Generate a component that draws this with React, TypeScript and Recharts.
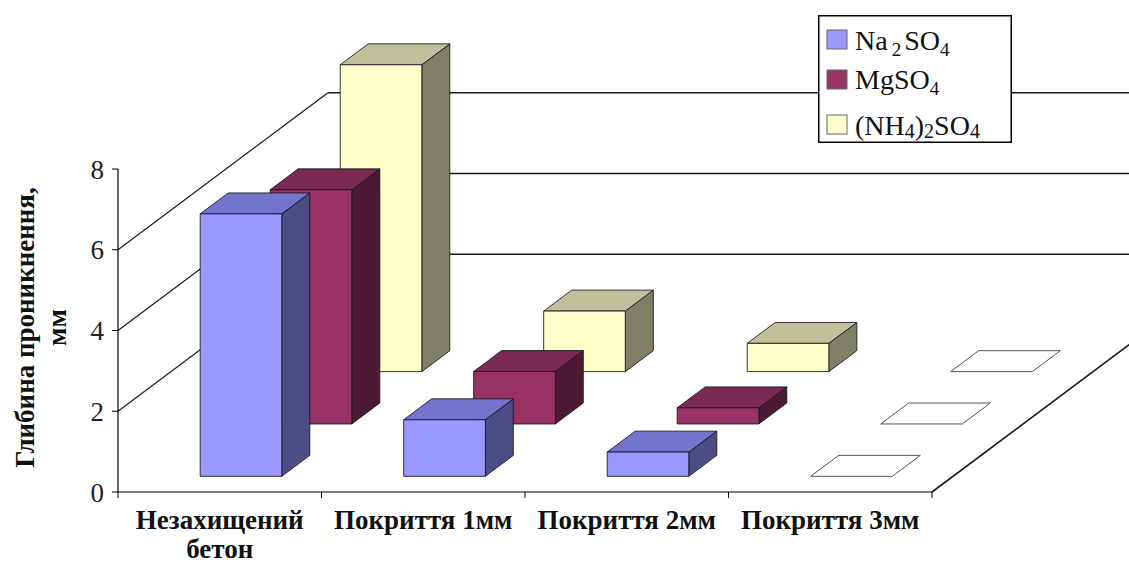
import React from 'react';
import { BarChart, Bar, XAxis, YAxis, CartesianGrid, Legend } from 'recharts';

// Categories along the front axis; a line break splits a label over two lines
const categories = ['Незахищений\nбетон', 'Покриття 1мм', 'Покриття 2мм', 'Покриття 3мм'];

// Penetration depth (mm) per aggressive solution
const na2so4Depth = [6.5, 1.4, 0.6, 0];
const mgso4Depth = [5.8, 1.3, 0.4, 0];
const nh42so4Depth = [7.6, 1.5, 0.7, 0];

const yTicks = [0, 2, 4, 6, 8];

const data = categories.map((category, i) => ({
  category,
  na2so4: na2so4Depth[i],
  mgso4: mgso4Depth[i],
  nh42so4: nh42so4Depth[i],
}));

const SERIF = "'Liberation Serif', 'Times New Roman', serif";

// Chart frame
const CHART_W = 1129;
const CHART_H = 565;
const MARGIN = { top: 169, right: 197, left: 18, bottom: 33 };
const Y_AXIS_W = 100;
const X_AXIS_H = 40;
const X_TICK_SIZE = 6;
const X_TICK_MARGIN = 2;
const PLOT_W = CHART_W - MARGIN.left - MARGIN.right - Y_AXIS_W;

// Oblique projection: offset of the back of the floor relative to its front edge
const DEPTH_X = 210;
const DEPTH_Y = -157;
const ROWS = 3;
const BAR_FILL = 0.4; // share of a category / depth row taken by a box

type Palette = { front: string; top: string; side: string };

const PALETTES: Record<string, Palette> = {
  na2so4: { front: '#9999FF', top: '#7474CC', side: '#4D4D85' },
  mgso4: { front: '#993366', top: '#7A2952', side: '#4D1A33' },
  nh42so4: { front: '#FFFFCC', top: '#C0C09A', side: '#808066' },
};

// Draws one 3D box in depth row `row` (0 = front) from the bar geometry Recharts computed
function makeBox(row: number, pal: Palette) {
  return (props: any) => {
    const { x, y, width, height } = props;
    if (![x, y, width, height].every((v) => typeof v === 'number' && isFinite(v))) return <g />;
    const f0 = (row + (1 - BAR_FILL) / 2) / ROWS;
    const f1 = (row + (1 + BAR_FILL) / 2) / ROWS;
    const w = width * BAR_FILL;
    const fx = x + (width * (1 - BAR_FILL)) / 2 + f0 * DEPTH_X;
    const top = y + f0 * DEPTH_Y;
    const bottom = y + height + f0 * DEPTH_Y;
    const dx = (f1 - f0) * DEPTH_X;
    const dy = (f1 - f0) * DEPTH_Y;
    const topFace = `${fx},${top} ${fx + w},${top} ${fx + w + dx},${top + dy} ${fx + dx},${top + dy}`;
    if (height < 0.5) {
      return (
        <polygon points={topFace} fill="#FFFFFF" stroke="#555" strokeWidth={1} strokeLinejoin="round" />
      );
    }
    const sideFace = `${fx + w},${top} ${fx + w + dx},${top + dy} ${fx + w + dx},${bottom + dy} ${fx + w},${bottom}`;
    const edge = { stroke: 'rgba(20,20,30,0.85)', strokeWidth: 1, strokeLinejoin: 'round' as const };
    return (
      <g>
        <polygon points={sideFace} fill={pal.side} {...edge} />
        <polygon points={topFace} fill={pal.top} {...edge} />
        <rect x={fx} y={top} width={w} height={bottom - top} fill={pal.front} {...edge} />
      </g>
    );
  };
}

// Wall gridlines: diagonal on the side wall, horizontal on the back wall; floor edge at 0
const WallLine = (p: any) => {
  const { x1, x2, y1 } = p;
  const plotTop = typeof p.y === 'number' ? p.y : MARGIN.top;
  const plotBottom = typeof p.height === 'number' ? plotTop + p.height : CHART_H - MARGIN.bottom - X_AXIS_H;
  const stroke = '#1a1a1a';
  if (Math.abs(y1 - plotBottom) < 0.5) {
    return (
      <line key={p.key} x1={x2} y1={y1} x2={x2 + DEPTH_X} y2={y1 + DEPTH_Y} stroke={stroke} strokeWidth={1.6} />
    );
  }
  if (Math.abs(y1 - plotTop) < 0.5) return <g key={p.key} />;
  return (
    <g key={p.key}>
      <line x1={x1} y1={y1} x2={x1 + DEPTH_X} y2={y1 + DEPTH_Y} stroke={stroke} strokeWidth={1.2} />
      <line x1={x1 + DEPTH_X} y1={y1 + DEPTH_Y} x2={x2 + DEPTH_X} y2={y1 + DEPTH_Y} stroke={stroke} strokeWidth={1.6} />
    </g>
  );
};

const CategoryTick = (props: any) => {
  const { x, y, payload, index } = props;
  const half =
    payload && typeof payload.offset === 'number' && payload.offset > 0
      ? payload.offset
      : PLOT_W / categories.length / 2;
  const axisY = y - X_TICK_SIZE - X_TICK_MARGIN;
  const lines = String(payload.value).split('\n');
  return (
    <g>
      <line x1={x + half} y1={axisY} x2={x + half} y2={axisY + 6} stroke="#000" />
      {index === 0 && <line x1={x - half} y1={axisY} x2={x - half} y2={axisY + 6} stroke="#000" />}
      <text x={x} y={axisY + 37} textAnchor="middle" fontFamily={SERIF} fontWeight="bold" fontSize={27} fill="#111">
        {lines.map((l, i) => (
          <tspan key={i} x={x} dy={i === 0 ? 0 : 29}>
            {l}
          </tspan>
        ))}
      </text>
    </g>
  );
};

const AxisTitle = (props: any) => {
  const vb = props.viewBox || {};
  const left = typeof vb.x === 'number' ? vb.x : MARGIN.left;
  const cy = typeof vb.y === 'number' && typeof vb.height === 'number' ? vb.y + vb.height / 2 - 3 : 327;
  const c1 = left + 7;
  const c2 = left + 39;
  const common = {
    textAnchor: 'middle' as const,
    dominantBaseline: 'central' as const,
    fontFamily: SERIF,
    fontWeight: 'bold' as const,
    fontSize: 27,
    fill: '#111',
  };
  return (
    <g>
      <text x={c1} y={cy} transform={`rotate(-90, ${c1}, ${cy})`} {...common}>
        Глибина проникнення,
      </text>
      <text x={c2} y={cy} transform={`rotate(-90, ${c2}, ${cy})`} {...common}>
        мм
      </text>
    </g>
  );
};

const Sub = ({ children }: { children: React.ReactNode }) => (
  <tspan dy={6} fontSize={19}>
    {children}
  </tspan>
);

const LegendBox = () => {
  const swatch = (y: number, fill: string) => (
    <rect x={9} y={y} width={20} height={19} fill={fill} stroke="#666" strokeWidth={1} />
  );
  const text = { x: 37, fontFamily: SERIF, fontSize: 28, fill: '#111' };
  return (
    <svg width={194} height={128} style={{ display: 'block' }}>
      <rect x={0.75} y={0.75} width={192.5} height={126.5} fill="#FFFFFF" stroke="#000" strokeWidth={1.5} />
      {swatch(15, PALETTES.na2so4.front)}
      <text y={35} {...text}>
        Na
        <tspan dx={4} dy={6} fontSize={19}>2</tspan>
        <tspan dx={3} dy={-6}>SO</tspan>
        <Sub>4</Sub>
      </text>
      {swatch(55, PALETTES.mgso4.front)}
      <text y={74} {...text}>
        MgSO
        <Sub>4</Sub>
      </text>
      {swatch(100, PALETTES.nh42so4.front)}
      <text y={120} {...text}>
        (NH
        <tspan dy={3} fontSize={20}>4</tspan>
        <tspan dy={-3}>)</tspan>
        <tspan dy={3} fontSize={20}>2</tspan>
        <tspan dy={-3}>SO</tspan>
        <tspan dy={3} fontSize={20}>4</tspan>
      </text>
    </svg>
  );
};

export default function App() {
  return (
    <div style={{ position: 'absolute', left: 0, top: 0, width: CHART_W, height: CHART_H, background: '#fff', overflow: 'hidden' }}>
      <BarChart
        width={CHART_W}
        height={CHART_H}
        data={data}
        margin={MARGIN}
        barCategoryGap="0%"
        barGap={0}
      >
        <CartesianGrid vertical={false} horizontal={WallLine as any} />
        <XAxis
          xAxisId="front"
          dataKey="category"
          height={X_AXIS_H}
          axisLine={{ stroke: '#000', strokeWidth: 1.2 }}
          tickLine={false}
          tickSize={X_TICK_SIZE}
          tickMargin={X_TICK_MARGIN}
          interval={0}
          tick={<CategoryTick />}
        />
        {/* scale-only axes giving the deeper rows a full category band each */}
        <XAxis xAxisId="middle" dataKey="category" hide height={0} />
        <XAxis xAxisId="back" dataKey="category" hide height={0} />
        <YAxis
          type="number"
          domain={[0, 8]}
          ticks={yTicks}
          interval={0}
          width={Y_AXIS_W}
          tickSize={6}
          tickMargin={8}
          axisLine={{ stroke: '#000', strokeWidth: 1.2 }}
          tickLine={{ stroke: '#000' }}
          tick={{ fontSize: 27, fontFamily: SERIF, fill: '#222' }}
          label={<AxisTitle />}
        />
        <Legend
          layout="vertical"
          align="center"
          verticalAlign="middle"
          wrapperStyle={{ left: 818, top: 15, width: 194, height: 128 }}
          content={() => <LegendBox />}
        />
        {/* back row first so nearer rows cover it */}
        <Bar xAxisId="back" dataKey="nh42so4" name="(NH4)2SO4" shape={makeBox(2, PALETTES.nh42so4)} isAnimationActive={false} />
        <Bar xAxisId="middle" dataKey="mgso4" name="MgSO4" shape={makeBox(1, PALETTES.mgso4)} isAnimationActive={false} />
        <Bar xAxisId="front" dataKey="na2so4" name="Na2SO4" shape={makeBox(0, PALETTES.na2so4)} isAnimationActive={false} />
      </BarChart>
    </div>
  );
}
